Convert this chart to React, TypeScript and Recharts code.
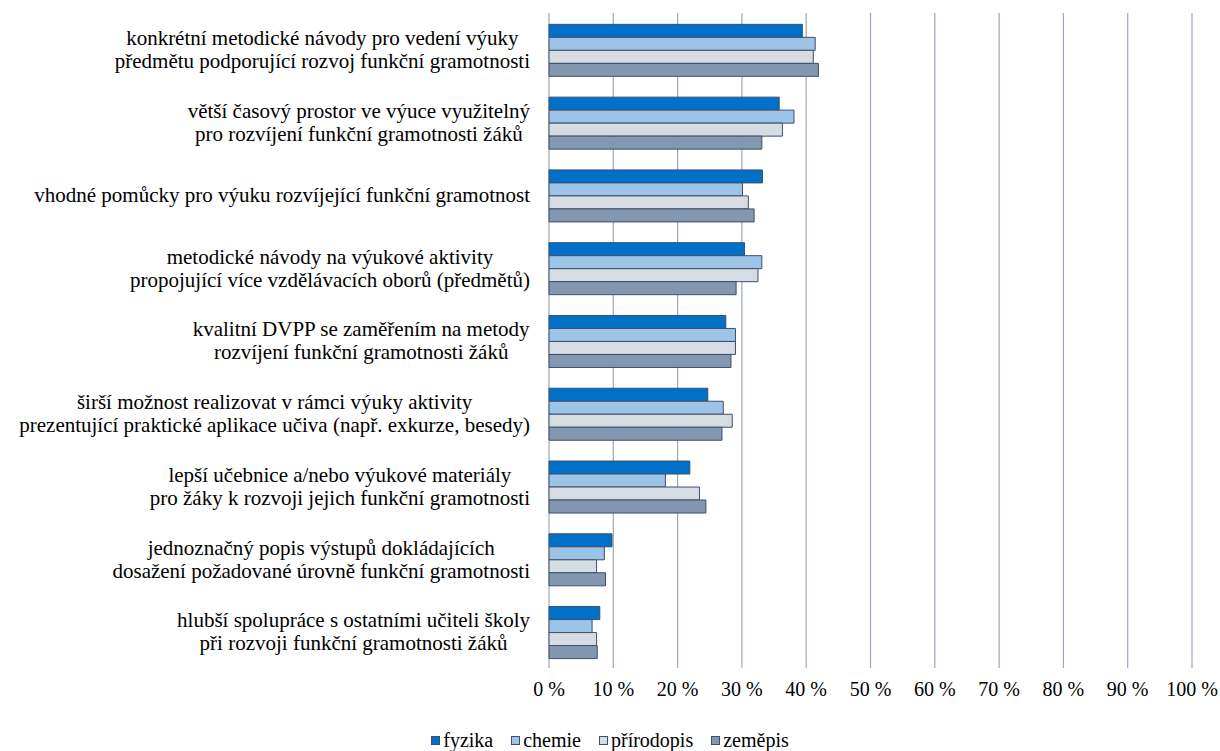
import { BarChart, Bar, XAxis, YAxis, CartesianGrid, Legend } from "recharts";

const categories = [
  "konkrétní metodické návody pro vedení výuky\npředmětu podporující rozvoj funkční gramotnosti",
  "větší časový prostor ve výuce využitelný\npro rozvíjení funkční gramotnosti žáků",
  "vhodné pomůcky pro výuku rozvíjející funkční gramotnost",
  "metodické návody na výukové aktivity\npropojující více vzdělávacích oborů (předmětů)",
  "kvalitní DVPP se zaměřením na metody\nrozvíjení funkční gramotnosti žáků",
  "širší možnost realizovat v rámci výuky aktivity\nprezentující praktické aplikace učiva (např. exkurze, besedy)",
  "lepší učebnice a/nebo výukové materiály\npro žáky k rozvoji jejich funkční gramotnosti",
  "jednoznačný popis výstupů dokládajících\ndosažení požadované úrovně funkční gramotnosti",
  "hlubší spolupráce s ostatními učiteli školy\npři rozvoji funkční gramotnosti žáků",
];

const fyzika = [39.4, 35.8, 33.2, 30.4, 27.5, 24.7, 21.9, 9.8, 7.9];
const chemie = [41.4, 38.1, 30.1, 33.1, 29.0, 27.1, 18.1, 8.6, 6.7];
const prirodopis = [41.1, 36.3, 31.0, 32.5, 29.0, 28.5, 23.4, 7.4, 7.4];
const zemepis = [41.9, 33.1, 31.9, 29.1, 28.3, 26.9, 24.4, 8.8, 7.5];

const xTicks = [0, 10, 20, 30, 40, 50, 60, 70, 80, 90, 100];

const series = [
  { key: "fyzika", name: "fyzika", color: "#0070C8" },
  { key: "chemie", name: "chemie", color: "#9DC3E6" },
  { key: "prirodopis", name: "přírodopis", color: "#D6DCE4" },
  { key: "zemepis", name: "zeměpis", color: "#8497B0" },
];

const FONT = "Liberation Serif, Times New Roman, DejaVu Serif, serif";
const FONT_SIZE = 20;
const LABEL_SIZE = 21;
const EDGE = "#3E4E6C";
const GRID = "#9AA7C2";

const chartData = categories.map((label, i) => ({
  label,
  fyzika: fyzika[i],
  chemie: chemie[i],
  prirodopis: prirodopis[i],
  zemepis: zemepis[i],
}));

let measureCtx: CanvasRenderingContext2D | null = null;
function textWidth(s: string) {
  if (!measureCtx) {
    measureCtx = document.createElement("canvas").getContext("2d");
    if (measureCtx) measureCtx.font = `${LABEL_SIZE}px ${FONT}`;
  }
  return measureCtx ? measureCtx.measureText(s).width : s.length * 9;
}

function CategoryTick({ x, y, payload }: any) {
  const lines = String(payload.value).split("\n");
  const block = Math.max(...lines.map(textWidth));
  const right = x - 19;
  const cx = right - block / 2;
  const lh = 23;
  return (
    <text
      style={{ fontFamily: FONT, fontSize: LABEL_SIZE }}
      fill="#000"
      textAnchor="middle"
    >
      {lines.map((ln, i) => (
        <tspan key={i} x={cx} y={y + (i - (lines.length - 1) / 2) * lh} dy="0.35em">
          {ln}
        </tspan>
      ))}
    </text>
  );
}

function LegendContent() {
  return (
    <div
      style={{
        width: 1220,
        height: 22,
        display: "flex",
        justifyContent: "center",
        alignItems: "center",
        fontFamily: FONT,
        fontSize: FONT_SIZE,
        color: "#000",
        gap: 18,
      }}
    >
      {series.map((s) => (
        <span key={s.key} style={{ display: "inline-flex", alignItems: "center" }}>
          <span
            style={{
              display: "inline-block",
              width: 9,
              height: 9,
              background: s.color,
              border: `1px solid ${EDGE}`,
              marginRight: 3,
              boxSizing: "border-box",
            }}
          />
          {s.name}
        </span>
      ))}
    </div>
  );
}

export default function App() {
  return (
    <div style={{ position: "absolute", left: 0, top: 0, background: "#fff", fontFamily: FONT }}>
      <BarChart
        width={1220}
        height={751}
        data={chartData}
        layout="vertical"
        margin={{ top: 13, right: 28, left: 0, bottom: 0 }}
        barCategoryGap="15.6%"
        barGap={0}
        style={{ fontFamily: FONT }}
      >
        <CartesianGrid horizontal={false} vertical stroke={GRID} strokeWidth={1.2} />
        <XAxis
          type="number"
          domain={[0, 100]}
          ticks={xTicks}
          interval={0}
          tickFormatter={(v) => `${v} %`}
          axisLine={false}
          tickLine={false}
          tickSize={0}
          tickMargin={14}
          height={61}
          tick={{ style: { fontFamily: FONT }, fontSize: FONT_SIZE, fill: "#000" }}
        />
        <YAxis
          type="category"
          dataKey="label"
          width={549}
          axisLine={false}
          tickLine={false}
          tickSize={0}
          tickMargin={0}
          interval={0}
          tick={<CategoryTick />}
        />
        <Legend verticalAlign="bottom" height={22} content={<LegendContent />} />
        {series.map((s) => (
          <Bar
            key={s.key}
            dataKey={s.key}
            name={s.name}
            fill={s.color}
            stroke={EDGE}
            strokeWidth={1}
            isAnimationActive={false}
          />
        ))}
      </BarChart>
    </div>
  );
}
